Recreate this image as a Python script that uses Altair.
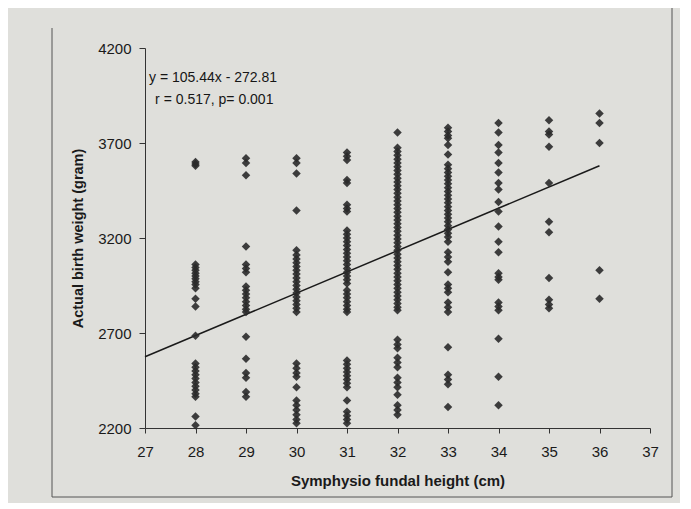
import altair as alt
import pandas as pd

# Birth weight (g) read per symphysio-fundal height column (cm)
w28 = [3600, 3590, 3580, 3060, 3045, 3030, 3015, 3000, 2985, 2970, 2955, 2935, 2880, 2840,
       2685, 2540, 2520, 2500, 2480, 2460, 2440, 2420, 2400, 2380, 2365, 2260, 2215]
w29 = [3620, 3595, 3530, 3155, 3060, 3040, 3020, 2945, 2925, 2905, 2885, 2865, 2845, 2825,
       2810, 2680, 2565, 2490, 2465, 2390, 2365]
w30 = [3620, 3595, 3540, 3345, 3135, 3110, 3090, 3070, 3050, 3030, 3010, 2990, 2970, 2950,
       2930, 2910, 2890, 2870, 2850, 2830, 2810, 2540, 2515, 2490, 2470, 2415, 2345, 2320,
       2295, 2270, 2245, 2225]
w31 = [3650, 3630, 3610, 3505, 3490, 3375, 3355, 3340, 3240, 3220, 3200, 3180, 3160, 3140,
       3120, 3100, 3080, 3060, 3040, 3020, 3000, 2980, 2960, 2925, 2905, 2885, 2865, 2845,
       2825, 2810, 2555, 2535, 2515, 2495, 2475, 2455, 2435, 2415, 2345, 2285, 2265, 2245, 2225]
w32 = [3755, 3675, 3655, 3635, 3615, 3595, 3575, 3555, 3535, 3515, 3495, 3475, 3455, 3435,
       3415, 3395, 3375, 3355, 3335, 3315, 3295, 3275, 3255, 3235, 3215, 3195, 3175, 3155,
       3135, 3115, 3095, 3075, 3055, 3035, 3015, 2995, 2975, 2955, 2935, 2915, 2895, 2875,
       2855, 2835, 2820, 2665, 2640, 2620, 2570, 2545, 2520, 2465, 2440, 2415, 2375, 2320,
       2295, 2270]
w33 = [3780, 3760, 3740, 3725, 3690, 3640, 3585, 3565, 3545, 3525, 3505, 3485, 3465, 3445,
       3425, 3405, 3385, 3365, 3345, 3325, 3305, 3285, 3265, 3245, 3225, 3205, 3180, 3125,
       3100, 3075, 3020, 2955, 2935, 2915, 2860, 2835, 2810, 2625, 2480, 2455, 2430, 2310]
w34 = [3805, 3755, 3690, 3650, 3595, 3545, 3490, 3455, 3390, 3340, 3260, 3180, 3125, 3015,
       2995, 2980, 2860, 2840, 2820, 2670, 2470, 2320]
w35 = [3820, 3760, 3745, 3680, 3490, 3285, 3230, 2990, 2875, 2850, 2830]
w36 = [3855, 3805, 3700, 3030, 2880]

heights = [28, 29, 30, 31, 32, 33, 34, 35, 36]
weights = [w28, w29, w30, w31, w32, w33, w34, w35, w36]

line_x = [27, 36]
line_y = [2575, 3580]

eq_lines = ["y = 105.44x - 272.81", "r = 0.517, p= 0.001"]
eq_x = [27.08, 27.2]
eq_y = [4042, 3926]

rows = []
for h, ws in zip(heights, weights):
    for w in ws:
        rows.append({"sfh": h, "bw": w})
pts = pd.DataFrame(rows)
line_df = pd.DataFrame({"sfh": line_x, "bw": line_y})
eq_df = pd.DataFrame({"sfh": eq_x, "bw": eq_y, "t": eq_lines})

FONT = "Liberation Sans"
xscale = alt.Scale(domain=[27, 37], nice=False, zero=False)
yscale = alt.Scale(domain=[2200, 4200], nice=False, zero=False)

xaxis = alt.Axis(values=list(range(27, 38)), format="d", grid=False, tickSize=5,
                 labelPadding=11, labelFontSize=15, labelFont=FONT, labelColor="#1a1a1a",
                 title="Symphysio fundal height (cm)", titleFont=FONT, titleFontSize=15,
                 titleFontWeight="bold", titleColor="#1a1a1a", titleY=52, titleBaseline="middle",
                 domainColor="#333", tickColor="#333", labelFlush=False)
yaxis = alt.Axis(values=[2200, 2700, 3200, 3700, 4200], format="d", grid=False, tickSize=6,
                 labelPadding=8, labelFontSize=15, labelFont=FONT, labelColor="#1a1a1a",
                 title="Actual birth weight (gram)", titleFont=FONT, titleFontSize=14.5,
                 titleFontWeight="bold", titleColor="#1a1a1a", titleX=-67, titleBaseline="middle",
                 titleAngle=-90, domainColor="#333", tickColor="#333", labelFlush=False)

points = alt.Chart(pts).mark_point(shape="diamond", filled=True, size=72, color="#2a2a2a",
                                   opacity=0.9).encode(
    x=alt.X("sfh:Q", scale=xscale, axis=xaxis),
    y=alt.Y("bw:Q", scale=yscale, axis=yaxis),
)

reg = alt.Chart(line_df).mark_line(color="#1a1a1a", strokeWidth=1.5).encode(
    x=alt.X("sfh:Q", scale=xscale), y=alt.Y("bw:Q", scale=yscale))

eq = alt.Chart(eq_df).mark_text(align="left", baseline="middle", font=FONT, fontSize=14,
                                color="#161616").encode(
    x=alt.X("sfh:Q", scale=xscale), y=alt.Y("bw:Q", scale=yscale), text="t:N")

one = pd.DataFrame({"a": [0]})
frame_left = alt.Chart(one).mark_rule(color="#555", strokeWidth=1).encode(
    x=alt.value(-93), y=alt.value(-20), y2=alt.value(449))
frame_right = alt.Chart(one).mark_rule(color="#555", strokeWidth=1).encode(
    x=alt.value(527), y=alt.value(-40), y2=alt.value(449))
frame_bottom = alt.Chart(one).mark_rule(color="#555", strokeWidth=1).encode(
    x=alt.value(-93), x2=alt.value(527), y=alt.value(449))

chart = alt.layer(frame_left, frame_right, frame_bottom, reg, points, eq).properties(
    width=505, height=380,
    autosize=alt.AutoSizeParams(type="none"),
    padding={"left": 137, "top": 40, "right": 30, "bottom": 75},
    background="#dfdfdb",
).configure_view(strokeWidth=0)

chart.save("out.html", embed_options={"renderer": "svg", "actions": False})
